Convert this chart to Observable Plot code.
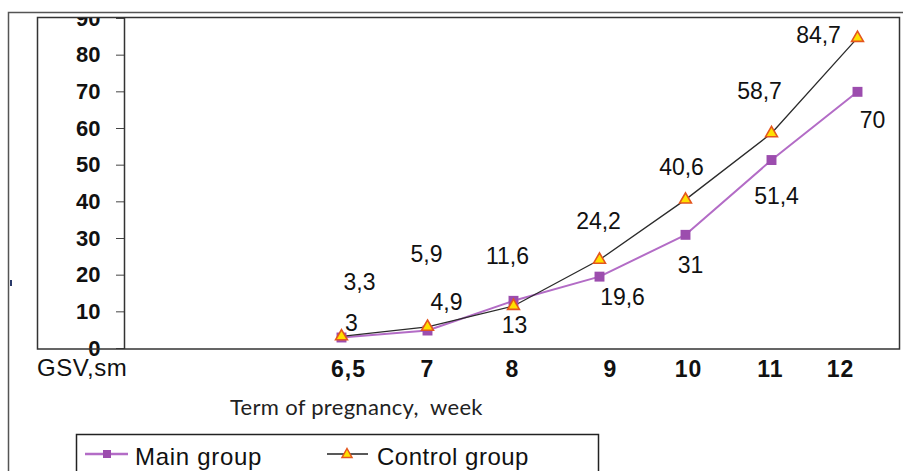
<!DOCTYPE html>
<html><head><meta charset="utf-8">
<script src="https://cdn.jsdelivr.net/npm/d3@7"></script>
<script src="https://cdn.jsdelivr.net/npm/@observablehq/plot@0.6"></script>
<style>
html,body{margin:0;padding:0;background:#fff;}
#wrap{position:relative;width:903px;height:471px;overflow:hidden;background:#fff;font-family:"Liberation Sans",Arial,sans-serif;}
#chart{position:absolute;left:0;top:17px;}
#overlay{position:absolute;left:0;top:0;pointer-events:none;}
</style></head><body>
<div id="wrap"><div id="chart"></div>
<svg id="overlay" width="903" height="471" font-family="Liberation Sans, Arial, sans-serif">
  <path d="M8.5,471 V12.5 H903" fill="none" stroke="#555" stroke-width="1.5"/>
  <rect x="37.5" y="17.5" width="862" height="331.5" fill="none" stroke="#333" stroke-width="1.5"/>
  <line x1="124.5" x2="124.5" y1="17.5" y2="349" stroke="#333" stroke-width="1.5"/>
  <line x1="11" x2="11" y1="280" y2="286" stroke="#2a3a6a" stroke-width="2"/>
  <text x="37" y="376" font-size="24" letter-spacing="0.5" fill="#111">GSV,sm</text>
  <text x="230" y="415" font-size="22" letter-spacing="0.3" font-family="Lato, 'Open Sans', sans-serif" fill="#222" style="white-space:pre">Term of pregnancy,  week</text>
  <rect x="76.5" y="434.5" width="522" height="60" fill="none" stroke="#222" stroke-width="1.5"/>
  <line x1="85" x2="128" y1="454" y2="454" stroke="#B36CC6" stroke-width="2.5"/>
  <rect x="103" y="450" width="8" height="8" fill="#9C4DAE"/>
  <text x="135" y="465" font-size="24" letter-spacing="0.7" fill="#111">Main group</text>
  <line x1="327" x2="368" y1="454" y2="454" stroke="#222" stroke-width="1.3"/>
  <polygon points="347,448.5 352,457.5 342,457.5" fill="#FFE000" stroke="#E4561E" stroke-width="1.5"/>
  <text x="377" y="465" font-size="24" letter-spacing="0.5" fill="#111">Control group</text>
</svg>
</div>
<script>
// ---- data ----
const weeks = ["6,5", "7", "8", "9", "10", "11", "12"];
const mainGroup = [3, 4.9, 13, 19.6, 31, 51.4, 70];
const controlGroup = [3.3, 5.9, 11.6, 24.2, 40.6, 58.7, 84.7];
const yTicks = [0, 10, 20, 30, 40, 50, 60, 70, 80, 90];

// ---- layout nudges for hand-placed labels (pixels) ----
const mainNudge = [[10,-14],[19,-28],[1,25],[23,21],[5,31],[5,37],[15,29]];
const controlNudge = [[18,-54],[-1,-72],[-6,-49],[-1,-38],[-4,-32],[-12,-42],[-39,-2]];
const tickNudge = [7, 0, -1, 11, 3, -1, -17];

const main = weeks.map((w, i) => ({week: w, value: mainGroup[i]}));
const control = weeks.map((w, i) => ({week: w, value: controlGroup[i]}));
const fmt = v => String(v).replace(".", ",");

const labelMarks = [];
main.forEach((d, i) => labelMarks.push(Plot.text([d], {
  x: "week", y: "value", text: r => fmt(r.value),
  dx: mainNudge[i][0], dy: mainNudge[i][1], fontSize: 23, fill: "#111", ariaLabel: "data label"
})));
control.forEach((d, i) => labelMarks.push(Plot.text([d], {
  x: "week", y: "value", text: r => fmt(r.value),
  dx: controlNudge[i][0], dy: controlNudge[i][1], fontSize: 23, fill: "#111", ariaLabel: "data label"
})));

const plot = Plot.plot({
  width: 903, height: 454,
  marginTop: 1, marginBottom: 123, marginLeft: 124, marginRight: 3,
  style: {background: "transparent", fontFamily: "Liberation Sans, Arial, sans-serif", overflow: "hidden", color: "#111"},
  x: {type: "point", domain: weeks, range: [340, 857], padding: 0},
  y: {domain: [0, 90]},
  marks: [
    Plot.axisY(yTicks, {tickSize: 8, tickPadding: 16, fontSize: 22, fontWeight: "bold", stroke: "#444", fill: "#111", label: null}),
    ...weeks.map((w, i) => Plot.axisX([w], {tickSize: 0, tickPadding: 12, dx: tickNudge[i], fontSize: 23, fontWeight: "bold", fill: "#111", label: null})),
    Plot.line(main, {x: "week", y: "value", stroke: "#B36CC6", strokeWidth: 2}),
    Plot.line(control, {x: "week", y: "value", stroke: "#2b2b2b", strokeWidth: 1.3}),
    Plot.dot(main, {x: "week", y: "value", symbol: "square", r: 5.6, fill: "#9C4DAE", stroke: "none"}),
    Plot.dot(control, {x: "week", y: "value", symbol: "triangle", r: 4.4, fill: "#FFE000", stroke: "#E4561E", strokeWidth: 1.6}),
    ...labelMarks
  ]
});
plot.querySelectorAll('g[aria-label="data label"] text').forEach(t => t.style.letterSpacing = "1px");
plot.querySelectorAll('g[aria-label="x-axis tick label"] text').forEach(t => t.style.letterSpacing = "1px");
document.getElementById("chart").appendChild(plot);
</script>
</body></html>
